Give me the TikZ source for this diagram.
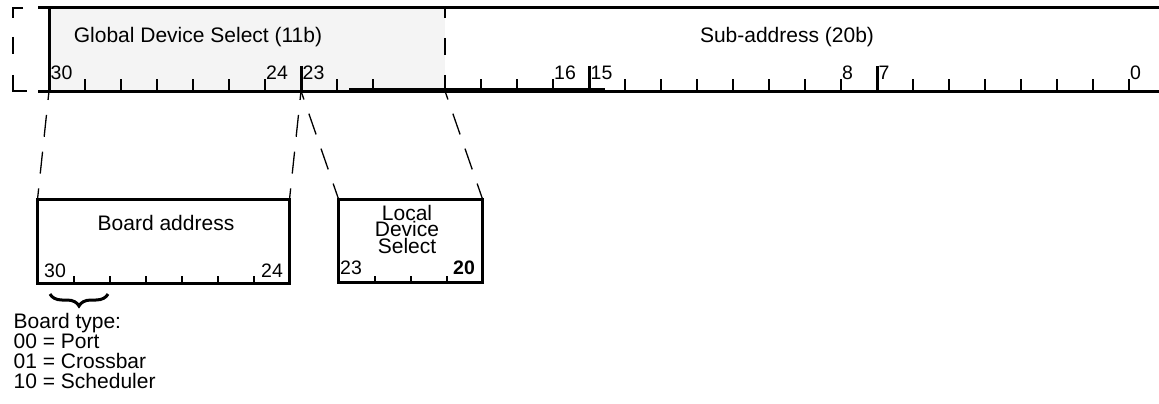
\documentclass[tikz,border=0pt]{standalone}
\usepackage{fontspec}
\setmainfont{Liberation Sans}
\usetikzlibrary{decorations.pathreplacing}
\definecolor{regfill}{RGB}{244,244,244}
\begin{document}
\begin{tikzpicture}[x=1pt,y=-1pt,
  thickln/.style={line width=3pt},
  tickst/.style={line width=2pt},
  bigtick/.style={line width=3pt},
  dashcon/.style={line width=1.3pt, dash pattern=on 22pt off 15pt, dash phase=13pt},
  lbl/.style={font=\fontsize{21}{16.5}\selectfont, inner sep=0pt, anchor=base},
  num/.style={font=\fontsize{19.5}{20}\selectfont, inner sep=0pt, anchor=base west},
  boxst/.style={draw, line width=3pt, inner sep=0pt, outer sep=0pt, anchor=north west},
  brk/.style={line width=2.5pt},
]
\useasboundingbox (0,0) rectangle (1159,404);
% register
\fill[regfill] (49,8) rectangle (445,91);
\draw[thickln] (38,8) -- (1170,8);
\draw[thickln] (38,91) -- (1170,91);
\draw[line width=2pt] (349,89.3) -- (605,89.3);
\draw[thickln] (49,6.5) -- (49,92.5);
\foreach \i in {1,...,9,11,12,...,30} \draw[tickst] (49+\i*36,79) -- (49+\i*36,91);
\foreach \i in {7,15,23} \draw[bigtick] (49+\i*36,66) -- (49+\i*36,91);
\draw[brk, dash pattern=on 17pt off 20pt, dash phase=7pt] (445,8) -- (445,91);
% bit 31 dashed outline
\draw[brk] (23,8) -- (13,8) -- (13,18);
\draw[brk] (13,37) -- (13,54);
\draw[brk] (13,75) -- (13,91) -- (27,91);
% register texts
\node[lbl] (gds) at (198,43) {Global Device Select (11b)};
\node[lbl] (sub) at (787,43) {Sub-address (20b)};
\node[num] (n30) at (50.5,80) {30};
\node[num] (n24) at (266,80) {24};
\node[num] (n23) at (302.5,80) {23};
\node[num] (n16) at (554,80) {16};
\node[num] (n15) at (590.5,80) {15};
\node[num] (n8) at (842,80) {8};
\node[num] (n7) at (878.5,80) {7};
\node[num] (n0) at (1130,80) {0};
\coordinate (r30) at (49,91);
\coordinate (r23) at (301,91);
\coordinate (r19) at (445,91);
% boxes
\node[boxst, minimum width=252pt, minimum height=84pt] (board) at (37.5,199.5) {};
\node[boxst, minimum width=144pt, minimum height=83pt] (local) at (338.5,199) {};
\foreach \i in {1,...,6} \draw[tickst] ([xshift=\i*36pt]board.south west) -- ++(0,-8);
\foreach \i in {1,2,3} \draw[tickst] ([xshift=\i*36pt]local.south west) -- ++(0,-6);
\node[lbl] (ba) at (166,230) {Board address};
\node[font=\fontsize{21}{16.5}\selectfont, align=center, inner sep=0pt, anchor=north] (ld) at (407,205) {Local\\Device\\Select};
\node[num] (b30) at (44,277) {30};
\node[num] (b24) at (261,277) {24};
\node[num] (l23) at (340,274) {23};
\node[num, font=\fontsize{19.5}{20}\selectfont\bfseries] (l20) at (453,274) {20};
% connectors
\draw[dashcon] (r30) -- (board.north west);
\draw[dashcon] (r23) -- (board.north east);
\draw[dashcon] (r23) -- (local.north west);
\draw[dashcon] (r19) -- (local.north east);
% brace and board type
\coordinate (br1) at (108,294);
\coordinate (br2) at (50,294);
\draw[line width=3pt, decorate, decoration={brace, amplitude=12pt, aspect=0.5}] (br1) -- (br2);
\node[lbl, anchor=base west] (bt1) at (13.5,328.5) {Board type:};
\node[lbl, anchor=base west] (bt2) at (13.5,348.5) {00 = Port};
\node[lbl, anchor=base west] (bt3) at (13.5,368.5) {01 = Crossbar};
\node[lbl, anchor=base west] (bt4) at (13.5,388.5) {10 = Scheduler};
\end{tikzpicture}
\end{document}
